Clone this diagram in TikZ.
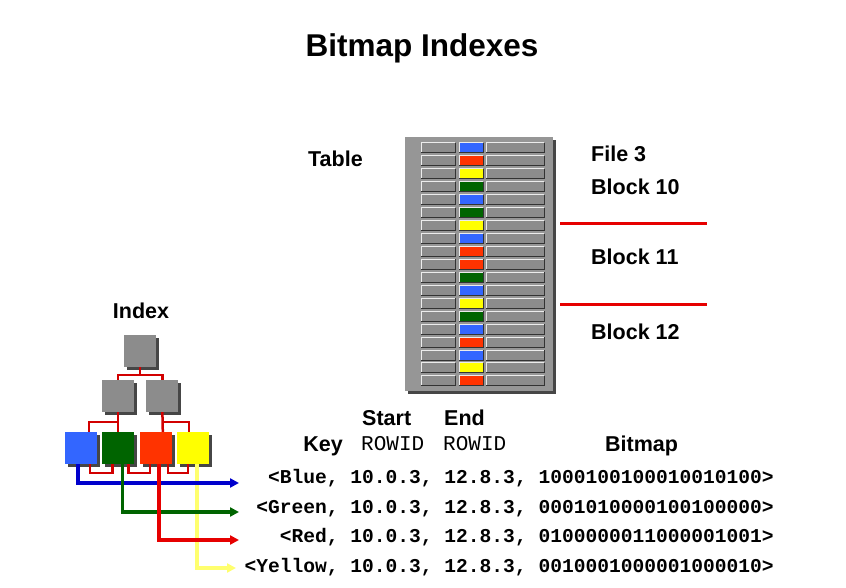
\documentclass[tikz,border=0pt]{standalone}
\usepackage{fontspec}
\setmainfont{Liberation Sans}
\newfontfamily\codefont{Liberation Mono}
\usetikzlibrary{positioning,shadows,arrows.meta}

\definecolor{kblue}{RGB}{51,102,255}
\definecolor{kred}{RGB}{255,51,0}
\definecolor{kyellow}{RGB}{255,255,0}
\definecolor{kgreen}{RGB}{0,100,0}
\definecolor{panelgray}{RGB}{150,150,150}
\definecolor{cellgray}{RGB}{140,140,140}
\definecolor{boxgray}{RGB}{140,140,140}
\definecolor{darkshade}{RGB}{70,70,70}
\definecolor{treered}{RGB}{210,0,0}
\definecolor{lineblue}{RGB}{0,0,204}
\definecolor{linegreen}{RGB}{0,100,0}
\definecolor{linered}{RGB}{230,0,0}
\definecolor{lineyellow}{RGB}{255,255,110}

\begin{document}
\begin{tikzpicture}[%
  x=1pt, y=-1pt,
  >={Triangle[length=9pt,width=9pt]},
  lbl/.style={font=\fontsize{21.5}{26}\selectfont\bfseries, inner sep=0pt},
  code/.style={font=\codefont\fontsize{21}{25}\selectfont, inner sep=0pt},
  row/.style={font=\codefont\fontsize{19.6}{24}\selectfont\bfseries, inner sep=0pt, anchor=base east},
  sq/.style={minimum size=32pt, inner sep=0pt, fill=boxgray,
    general shadow={fill=darkshade, shadow xshift=3pt, shadow yshift=-3pt}},
  panel/.style={minimum width=148pt, minimum height=254pt, inner sep=0pt, fill=panelgray,
    general shadow={fill=darkshade, shadow xshift=3pt, shadow yshift=-3pt}},
  tree/.style={treered, line width=2.5pt},
  pil/.style={line width=3.5pt, ->}
  ]
  \useasboundingbox (0,0) rectangle (846,588);

  %% Title
  \node[font=\fontsize{31.5}{38}\selectfont\bfseries, anchor=base, inner sep=0pt] (title) at (422,57) {Bitmap Indexes};

  %% Table
  \node[lbl, anchor=base west] (tablelbl) at (308,167) {Table};
  \node[panel] (tbl) at (479,264) {};
  \foreach \c [count=\i from 0] in {kblue,kred,kyellow,kgreen,kblue,kgreen,kyellow,kblue,kred,kred,kgreen,kblue,kyellow,kgreen,kblue,kred,kblue,kyellow,kred}{
    \pgfmathsetmacro\yt{143+12.94*\i}
    \foreach \xa/\xb/\f in {421/455/cellgray, 459/483/\c, 486/544/cellgray}{
      \fill[\f] (\xa,\yt) rectangle (\xb,\yt+10);
      \draw[white!85!gray, line width=1pt] (\xa,\yt+10) |- (\xb,\yt);
      \draw[black!80, line width=1pt] (\xa,\yt+10) -| (\xb,\yt);
    }
  }

  %% Blocks
  \node[lbl, anchor=base west] (file3) at (591,162) {File 3};
  \node[lbl, anchor=base west] (blk10) at (591,195) {Block 10};
  \node[lbl, anchor=base west] (blk11) at (591,265) {Block 11};
  \node[lbl, anchor=base west] (blk12) at (591,339) {Block 12};
  \draw[linered, line width=3pt] (560,224) -- (707,224);
  \draw[linered, line width=3pt] (560,304) -- (707,304);

  %% Index tree
  \node[lbl, anchor=base] (indexlbl) at (141,318) {Index};
  \node[sq] (root) at (140,351) {};
  \node[sq] (l2a) at (118,396) {};
  \node[sq, right=12pt of l2a] (l2b) {};
  \node[sq, fill=kblue] (lb) at (81,448) {};
  \node[sq, fill=kgreen, right=5pt of lb] (lg) {};
  \node[sq, fill=kred, right=5pt of lg] (lr) {};
  \node[sq, fill=kyellow, right=5pt of lr] (ly) {};

  \draw[tree] (root.south) -- ++(0,8) -| (l2a.north);
  \draw[tree] (root.south) -- ++(0,8) -| (l2b.north);
  \draw[tree] (l2a.south) -- (l2a.south |- lg.north);
  \draw[tree] ([yshift=-10pt]l2a.south) -| ([xshift=8pt]lb.north);
  \draw[tree] (l2b.south) -- ([xshift=7pt]lr.north);
  \draw[tree] ([yshift=-10pt]l2b.south) -| ([xshift=-4pt]ly.north);
  \draw[tree] ([xshift=9pt]lb.south) -- ++(0,9) -| ([xshift=-6pt]lg.south);
  \draw[tree] ([xshift=10pt]lg.south) -- ++(0,9) -| ([xshift=-6pt]lr.south);
  \draw[tree] ([xshift=12pt]lr.south) -- ++(0,9) -| ([xshift=-5pt]ly.south);

  %% Headers
  \node[lbl, anchor=base west] (start) at (362,425) {Start};
  \node[lbl, anchor=base west] (end) at (444,425) {End};
  \node[lbl, anchor=base east] (key) at (343,451) {Key};
  \node[code, anchor=base west] (rowa) at (361,450) {ROWID};
  \node[code, anchor=base west] (rowb) at (443,450) {ROWID};
  \node[lbl, anchor=base west] (bitmap) at (605,451) {Bitmap};

  %% Bitmap rows
  \node[row] (kb) at (774,483) {<Blue, 10.0.3, 12.8.3, 1000100100010010100>};
  \node[row] (kg) at (774,513) {<Green, 10.0.3, 12.8.3, 0001010000100100000>};
  \node[row] (kr) at (774,542) {<Red, 10.0.3, 12.8.3, 0100000011000001001>};
  \node[row] (ky) at (774,572) {<Yellow, 10.0.3, 12.8.3, 0010001000001000010>};

  %% Pointers
  \coordinate (tb) at (239,483);
  \coordinate (tg) at (239,512);
  \coordinate (tr) at (239,540);
  \coordinate (ty) at (236,568);
  \draw[pil, lineyellow] ([xshift=4pt]ly.south) |- (ty);
  \draw[pil, lineblue] ([xshift=-3pt]lb.south) |- (tb);
  \draw[pil, linegreen] ([xshift=4pt]lg.south) |- (tg);
  \draw[pil, linered] ([xshift=3pt]lr.south) |- (tr);
\end{tikzpicture}
\end{document}
